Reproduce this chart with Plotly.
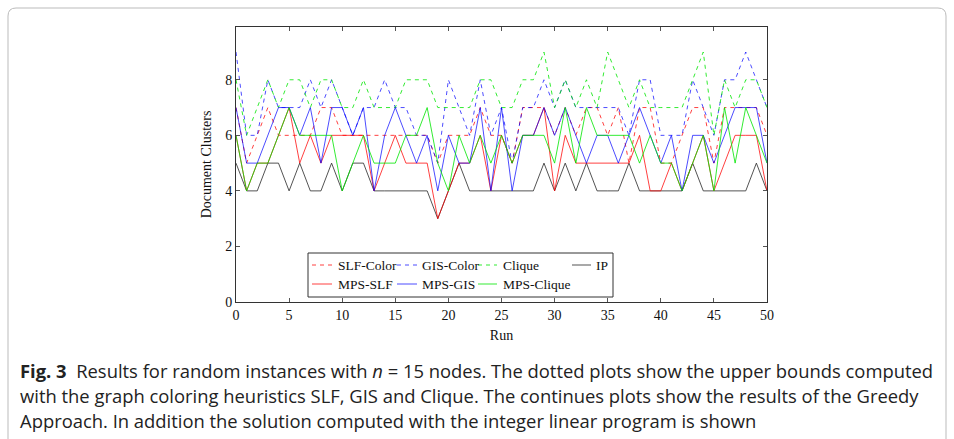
import plotly.graph_objects as go

runs = list(range(0, 51))

slf_color = [7,5,6,7,6,6,6,6,7,7,6,6,6,6,6,6,6,6,6,5,6,6,6,7,6,6,5,7,7,7,6,7,6,7,7,6,7,5,7,7,5,5,6,7,7,5,7,7,7,7,6]
gis_color = [9,6,6,8,7,7,7,8,7,8,7,6,7,7,8,7,7,6,6,5,8,7,6,8,6,7,5,7,7,8,7,8,7,7,7,7,7,6,8,8,6,6,6,8,7,6,8,8,9,8,7]
clique    = [8,6,7,8,7,8,8,7,8,8,7,7,8,7,7,7,8,8,8,7,7,7,7,8,8,7,7,8,8,9,7,8,7,8,7,9,8,7,8,7,7,7,7,8,9,6,8,7,8,8,7]
ip        = [5,4,4,5,5,4,5,4,4,5,4,5,5,4,4,4,4,4,4,3,4,5,4,4,4,4,4,4,4,5,4,5,4,5,4,4,4,5,4,4,4,4,4,5,4,4,4,4,4,5,4]
mps_slf   = [6,4,5,5,6,7,5,6,5,6,6,6,6,4,5,6,5,5,5,3,4,5,5,6,4,6,5,6,6,7,4,6,5,5,5,5,5,5,6,4,4,5,4,5,6,4,5,6,6,6,4]
mps_gis   = [7,5,5,6,7,7,6,7,5,7,7,6,7,4,6,7,6,5,6,4,6,5,5,7,4,7,4,6,6,7,6,7,6,5,6,6,5,6,7,6,5,6,4,6,6,5,6,7,7,7,5]
mps_clique= [6,4,5,5,6,7,6,6,6,6,4,5,6,5,5,5,6,6,7,5,4,6,5,6,5,6,5,6,6,6,5,7,5,7,6,6,6,6,5,6,5,5,4,5,6,4,7,5,7,6,5]

series_names = ["SLF-Color", "GIS-Color", "Clique", "IP", "MPS-SLF", "MPS-GIS", "MPS-Clique"]
series_vals = [slf_color, gis_color, clique, ip, mps_slf, mps_gis, mps_clique]
colors = ["rgba(255,0,0,0.75)", "rgba(0,0,255,0.7)", "rgba(0,230,0,0.8)", "rgba(40,40,40,0.8)",
          "rgba(255,0,0,0.75)", "rgba(0,0,255,0.7)", "rgba(0,230,0,0.8)"]
dashes = ["4px,4px", "4px,4px", "4px,4px", "solid", "solid", "solid", "solid"]

x_ticks = [0, 5, 10, 15, 20, 25, 30, 35, 40, 45, 50]
y_ticks = [0, 2, 4, 6, 8]

fig = go.Figure()
for name, vals, c, d in zip(series_names, series_vals, colors, dashes):
    fig.add_trace(go.Scatter(x=runs, y=vals, mode="lines", name=name,
                             line=dict(color=c, width=1, dash=d), showlegend=False))

W, H = 954, 439
L, R, T, B = 236, 187, 27, 137
pw, ph = W - L - R, H - T - B

def px(X):
    return (X - L) / pw

def py(Y):
    return (H - B - Y) / ph

serif = "Liberation Serif"
axis_common = dict(showline=True, linecolor="#333", linewidth=1, mirror="ticks",
                   ticks="inside", ticklen=4, tickcolor="#555", showgrid=False,
                   zeroline=False, tickfont=dict(family=serif, size=14, color="#111"))

fig.update_layout(
    width=W, height=H, margin=dict(l=L, r=R, t=T, b=B),
    paper_bgcolor="white", plot_bgcolor="white",
    xaxis=dict(range=[0, 50], tickvals=x_ticks, title=dict(text="Run", font=dict(family=serif, size=14, color="#111"), standoff=8), **axis_common),
    yaxis=dict(range=[0, 9.9], tickvals=y_ticks, title=dict(text="Document Clusters", font=dict(family=serif, size=14, color="#111"), standoff=10), **axis_common),
    showlegend=False,
)

# legend (frame, samples and labels), laid out in 4 columns x 2 rows like the original
fig.add_shape(type="rect", xref="paper", yref="paper", x0=px(308), x1=px(613), y0=py(297), y1=py(253),
              line=dict(color="#333", width=1), fillcolor="white", layer="above")
leg_sample_x = [(312, 332), (397, 417), (478, 497), (572, 591), (312, 332), (397, 417), (478, 497)]
leg_text_x = [336, 420, 501, 594, 336, 420, 501]
leg_row_y = [265, 265, 265, 265, 284, 284, 284]
for name, c, d, (sx0, sx1), tx, ry in zip(series_names, colors, dashes, leg_sample_x, leg_text_x, leg_row_y):
    fig.add_shape(type="line", xref="paper", yref="paper", x0=px(sx0), x1=px(sx1), y0=py(ry), y1=py(ry),
                  line=dict(color=c, width=1, dash=d), layer="above")
    fig.add_annotation(text=name, xref="paper", yref="paper", x=px(tx), y=py(ry), xanchor="left", yanchor="middle",
                       showarrow=False, font=dict(family=serif, size=13.5, color="#111"))

# outer rounded border
x0, x1, y0, y1, r = px(8), px(946), py(460), py(8), 8 / pw
ry_ = 8 / ph
path = (f"M {x0+r},{y1} L {x1-r},{y1} Q {x1},{y1} {x1},{y1-ry_} L {x1},{y0+ry_} Q {x1},{y0} {x1-r},{y0} "
        f"L {x0+r},{y0} Q {x0},{y0} {x0},{y0+ry_} L {x0},{y1-ry_} Q {x0},{y1} {x0+r},{y1} Z")
fig.add_shape(type="path", xref="paper", yref="paper", path=path, line=dict(color="#bbb", width=1))

caption_lines = [
    "<b>Fig. 3</b>  Results for random instances with <i>n</i> = 15 nodes. The dotted plots show the upper bounds computed",
    "with the graph coloring heuristics SLF, GIS and Clique. The continues plots show the results of the Greedy",
    "Approach. In addition the solution computed with the integer linear program is shown",
]
cap_y = [370, 395, 420]
for txt, Y in zip(caption_lines, cap_y):
    fig.add_annotation(text=txt, xref="paper", yref="paper", x=px(18), y=py(Y), xanchor="left", yanchor="middle",
                       showarrow=False, font=dict(family="Open Sans", size=18.4, color="#222"))

fig.write_html("out.html", config={"displayModeBar": False},
               post_script="document.body.style.margin='0';document.body.style.overflow='hidden';")
